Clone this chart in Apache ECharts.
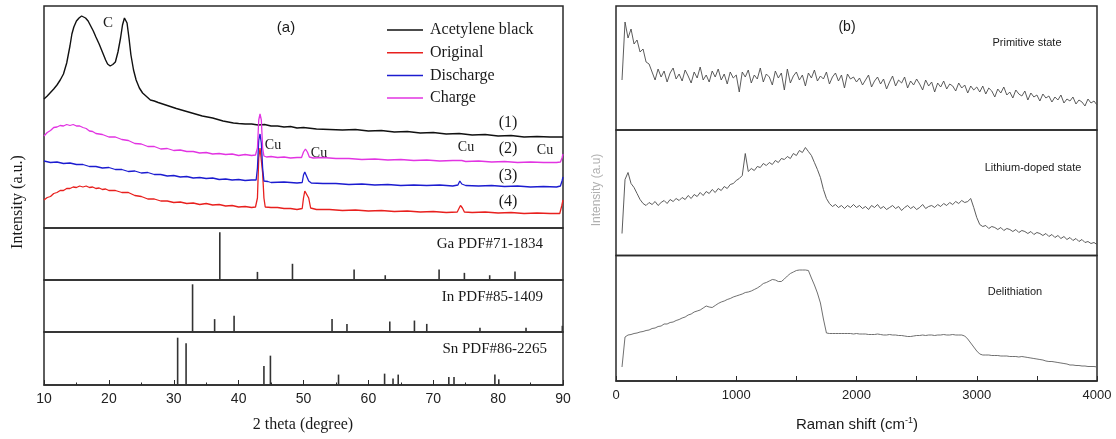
<!DOCTYPE html>
<html><head><meta charset="utf-8">
<script src="https://cdn.jsdelivr.net/npm/echarts@6/dist/echarts.min.js"></script>
<style>html,body{margin:0;padding:0;background:#fff}#c{width:1116px;height:439px}</style>
</head><body><div id="c"></div>
<script>
// ---------- Panel (a): XRD patterns, 2 theta (degree) vs intensity (a.u.) ----------
const acetyleneBlack = [[10,129],[10.5,132],[11,135.5],[11.5,139],[12,143],[12.5,148],[13,154],[13.5,165],[14,182],[14.3,194],[14.6,201],[15,207],[15.4,210],[15.8,212],[16.1,211.5],[16.4,210],[16.8,207],[17.2,202],[17.6,197],[18,191],[18.5,184],[19,176],[19.5,168],[19.8,164],[20.2,162],[20.6,163.5],[21,166],[21.4,176],[21.8,190],[22.1,203],[22.4,210],[22.6,212],[22.8,205],[23.1,190],[23.4,173],[23.8,158],[24.2,148],[24.7,140],[25.2,135],[25.8,131.5],[26.4,128],[27,127],[27.6,125.5],[28.3,124],[29,122.5],[29.7,121],[30.4,119.5],[31.2,118],[32,116.5],[32.8,115],[33.6,113.5],[34.4,112],[35.2,111],[36,110],[36.8,108.5],[37.6,107],[38.4,106],[39.2,105],[40,104.5],[41,104],[42,104],[43,103],[44,103.5],[45,102],[46,102],[47,101],[48,101.5],[49,100],[50,100.5],[52,99],[54,98.5],[56,98],[58,98.5],[60,97],[62,97.5],[64,96],[66,96.5],[68,95],[70,95.5],[72,94],[74,94.5],[76,93],[78,93.5],[80,92],[82,92.5],[84,91],[86,91.5],[88,91],[90,91]];
const original = [[10,28],[10.5,30.5],[11,31.5],[11.5,34.5],[12,35.5],[12.5,37.5],[13,37.5],[13.5,39.5],[14,39.5],[14.5,41],[15,40.5],[15.5,42],[16,41],[16.5,42],[17,40.5],[17.5,41],[18,39.5],[18.5,40],[19,38.5],[19.5,39],[20,37.5],[21,37.5],[22,35.5],[23,35.5],[24,32.5],[25,31.5],[26,29],[27,29],[28,27],[29,27],[30,25.5],[31,26],[32,24.5],[33,25],[34,23.5],[35,24.5],[36,23],[37,23.5],[38,22],[39,22.5],[40,21],[41,21.5],[42,20.5],[42.6,21],[42.9,30],[43.1,70],[43.3,80],[43.5,78],[43.7,55],[43.9,30],[44.1,21],[45,20.5],[46,20.5],[47,19.5],[48,19.5],[49,18.5],[49.8,19.5],[50,30],[50.2,37],[50.5,37],[50.8,30],[51.1,20],[52,18.5],[54,18.5],[56,17.5],[58,18],[60,17],[62,17.5],[64,16.5],[66,17],[68,16],[70,16.5],[72,15.5],[73.7,16],[74,20],[74.2,22.5],[74.5,20],[74.8,16],[76,15.5],[78,16],[80,15],[82,15.5],[84,14.5],[86,15],[88,14.5],[89.5,14.5],[89.8,22],[90,28]];
const discharge = [[10,67],[11,65.5],[12,66],[13,64.5],[14,65],[15,63.5],[16,63.5],[17,61.5],[18,61.5],[19,60],[20,60.5],[21,58.5],[22,58.5],[23,56.5],[24,57],[25,55],[26,55.5],[27,53.5],[28,53.5],[29,52],[30,52.5],[31,51],[32,51.5],[33,50],[34,50.5],[35,49.5],[36,50],[37,48.5],[38,49],[39,48],[40,48.5],[41,47.5],[42,48],[42.7,48],[42.9,60],[43.1,88],[43.3,94],[43.5,85],[43.7,60],[43.9,47],[44.5,46.5],[45,45.5],[47,46],[49,45],[49.8,45.5],[50,53],[50.2,56],[50.5,54],[50.8,47],[51.2,45],[53,44.5],[55,44.5],[57,43.5],[59,44],[61,43],[63,43.5],[65,42.5],[67,43],[69,42.5],[71,43],[73,42],[73.8,43],[74.1,47],[74.4,44],[75,42.5],[77,42],[79,42.5],[81,41.5],[83,42],[85,41],[87,41.5],[89,41],[89.6,42],[89.85,47],[90,51]];
const charge = [[10,92],[10.5,95.5],[11,97.5],[11.5,100.5],[12,101],[12.5,102.5],[13,102],[13.5,103.5],[14,102.5],[14.5,103.5],[15,102],[15.5,102],[16,100.5],[16.5,99.5],[17,97],[17.5,96.5],[18,94.5],[19,93.5],[20,91],[21,91],[22,88.5],[23,87.5],[24,84.5],[25,84],[26,81.5],[27,81.5],[28,79],[29,79.5],[30,77.5],[31,78],[32,76.5],[33,76.5],[34,75],[35,75.5],[36,74],[37,74.5],[38,73.5],[39,74],[40,72.5],[41,73.5],[42,72.5],[42.6,73],[42.9,80],[43.1,108],[43.3,114],[43.5,108],[43.7,80],[43.9,72],[44.3,71],[45,71.5],[46,70.5],[47,71],[48,70],[49,70.5],[49.7,70.5],[50,76],[50.3,79],[50.6,76],[50.9,71],[51.5,70],[53,70.5],[55,69.5],[57,69.5],[59,68.5],[61,69],[63,68],[65,68.5],[67,67.5],[69,68],[71,67],[73,67.5],[73.8,67.5],[74.1,69],[74.4,67.5],[75,66.5],[77,67],[79,66],[81,66.5],[83,65.5],[85,66],[87,65.5],[89,65.5],[89.6,66],[89.85,70],[90,74]];

// Reference patterns (2 theta, relative intensity)
const gaPDF = [[37.1,100],[42.9,17],[48.3,34],[57.8,22],[62.6,10],[70.9,22],[74.8,15],[78.7,10],[82.6,18]];
const inPDF = [[32.9,100],[36.3,27],[39.3,34],[54.4,27],[56.7,17],[63.3,22],[67.1,24],[69.0,17],[77.2,9],[84.3,9],[89.9,13]];
const snPDF = [[30.6,100],[31.9,88],[43.9,40],[44.9,62],[55.4,22],[62.5,24],[63.8,14],[64.6,22],[72.4,17],[73.2,17],[79.5,22],[80.1,12]];

const xrdTicks = [10,20,30,40,50,60,70,80,90];
const xrdLegend = ['Acetylene black','Original','Discharge','Charge'];

// ---------- Panel (b): Raman spectra ----------
const ramanShift = [50,75,100,125,150,175,200,225,250,275,300,325,350,375,400,425,450,475,500,525,550,575,600,625,650,675,700,725,750,775,800,825,850,875,900,925,950,975,1000,
1025,1050,1075,1100,1125,1150,1175,1200,1225,1250,1275,1300,1325,1350,1375,1400,1425,1450,1475,1500,1525,1550,1575,1600,1625,1650,1675,1700,1725,1750,1775,1800,1825,1850,1875,1900,1925,1950,1975,2000,
2025,2050,2075,2100,2125,2150,2175,2200,2225,2250,2275,2300,2325,2350,2375,2400,2425,2450,2475,2500,2525,2550,2575,2600,2625,2650,2675,2700,2725,2750,2775,2800,2825,2850,2875,2900,2925,2950,2975,3000,
3025,3050,3075,3100,3125,3150,3175,3200,3225,3250,3275,3300,3325,3350,3375,3400,3425,3450,3475,3500,3525,3550,3575,3600,3625,3650,3675,3700,3725,3750,3775,3800,3825,3850,3875,3900,3925,3950,3975,4000];
const primitiveState = [50,108,92,101,86,90,78,81,68,66, 58,50,61,53,59,48,57,62,51,56, 49,60,54,47,58,52,63,50,55,48, 59,53,61,50,56,46,58,52,55,
38,58,53,60,47,55,51,62,48,56, 53,45,59,52,57,40,61,47,54,58, 50,55,44,57,52,60,49,54,51,58, 46,53,57,49,55,42,56,51,53,48,
52,45,50,55,43,49,53,46,51,41, 48,54,44,50,47,53,42,49,45,51, 46,40,50,44,48,38,47,43,49,41, 46,44,39,47,42,45,37,44,40,43,
38,44,36,42,39,33,41,37,43,35, 38,32,40,36,34,39,30,37,33,35, 29,36,32,34,28,33,30,35,27,31, 29,33,26,30,28,24,31,27,29,25];
const lithiumDoped = [22,76,83,72,68,62,56,52,50,53, 51,54,50,53,55,52,56,54,57,55, 58,56,60,57,61,59,63,60,64,62, 66,63,67,65,69,67,71,72,75,
77,80,102,84,87,85,89,88,92,90, 93,91,95,93,97,96,99,97,102,100, 105,103,108,104,100,93,86,78,66,57, 52,49,51,48,50,47,50,48,51,48,
50,47,49,46,50,48,51,47,49,46, 48,50,47,49,45,48,50,47,49,46, 48,51,47,49,50,48,51,49,52,50, 53,51,54,52,55,53,54,57,48,38,
31,29,30,27,29,28,26,28,25,27, 26,24,26,23,25,24,22,24,21,23, 22,20,22,19,21,18,20,17,19,16, 18,15,17,14,16,13,14,12,13,11];
const delithiation = [14,44,46,46.5,47.5,48,49,49.5,50.5,51, 52.5,53,54.5,55,57,57,58.5,59,60.5,61.5, 63,64,66,67,69,70,71,73,75,74, 73.5,75.5,77.5,79,80,81.5,82.5,84,85,
86,87,88.5,89,90,91.5,93,95,97.5,98.5, 100,101.5,101,99.5,99.5,102,105,107.5,109,110.5, 111,111,111,110.5,103,96,88,78,62,48, 47.5,47.5,47.5,47.5,47.5,47.5,47.5,47.5,47,47.5,
47,47,47,46.5,46.5,46.5,47,46.5,46,46, 46.5,46,46,45.5,45.5,45,44.5,44.5,45,45.5, 45.5,46,45.5,46,46,45.5,46,46,46.5,46, 46,46.5,46,46,46,45,42,38,34,30,
27,26,26,26,25.5,25.5,25.5,25,25,25, 24.5,24.5,24.5,24,24.5,24,23.5,23,22.5,22, 21.5,21,20,19.5,19.5,19,18.5,18,17.5,17, 16,16,15.5,15.5,15,15,14.5,14.5,14.5,14];
const ramanTicks = [0,1000,2000,3000,4000];

// ---------- build ----------
const SERIF = '"Liberation Serif","Times New Roman",serif';
const SANS = '"Liberation Sans",Arial,sans-serif';
const zip = (xs, ys) => xs.map((x, i) => [x, ys[i]]);

const L = 44, LW = 519, R = 616, RW = 481;
const grids = [
  {left:L, top:6, width:LW, height:222},
  {left:L, top:228, width:LW, height:52},
  {left:L, top:280, width:LW, height:52},
  {left:L, top:332, width:LW, height:53},
  {left:R, top:6, width:RW, height:124},
  {left:R, top:130, width:RW, height:125.5},
  {left:R, top:255.5, width:RW, height:125.5}
].map(g => Object.assign({show:true, borderColor:'#2a2a2a', borderWidth:1.5, backgroundColor:'transparent', containLabel:false}, g));

const yMax = [222, 109, 109, 112, 124, 125.5, 125.5];

const xAxes = [];
for (let i = 0; i < 4; i++) {
  const bottom = i === 3;
  xAxes.push({
    type:'value', gridIndex:i, min:10, max:90, interval:10,
    axisLine:{show:bottom, onZero:false, lineStyle:{color:'#2a2a2a', width:1.5}},
    axisTick:{show:bottom, inside:true, length:5, lineStyle:{color:'#2a2a2a', width:1}},
    minorTick:{show:bottom, splitNumber:2, length:2.5, lineStyle:{color:'#2a2a2a', width:1}},
    axisLabel:{show:bottom, color:'#222', fontFamily:SANS, fontSize:14, margin:7,
      formatter: v => xrdTicks.includes(v) ? String(v) : ''},
    splitLine:{show:false}
  });
}
for (let i = 4; i < 7; i++) {
  const bottom = i === 6;
  xAxes.push({
    type:'value', gridIndex:i, min:0, max:4000, interval:500,
    axisLine:{show:bottom, onZero:false, lineStyle:{color:'#2a2a2a', width:1.5}},
    axisTick:{show:bottom, inside:true, length:5, lineStyle:{color:'#2a2a2a', width:1}},
    axisLabel:{show:bottom, color:'#222', fontFamily:SANS, fontSize:13, margin:8,
      formatter: v => ramanTicks.includes(v) ? String(v) : ''},
    splitLine:{show:false}
  });
}
const yAxes = yMax.map((m, i) => ({type:'value', gridIndex:i, min:0, max:m, show:false, splitLine:{show:false}}));

const lineS = (name, data, color, idx, width) => ({
  name, type:'line', data, xAxisIndex:idx, yAxisIndex:idx, showSymbol:false, symbol:'none',
  lineStyle:{color, width}, itemStyle:{color}, animation:false, silent:true
});
const barS = (name, data, idx) => ({
  name, type:'bar', data, xAxisIndex:idx, yAxisIndex:idx, barWidth:1.6,
  itemStyle:{color:'#333'}, animation:false, silent:true
});

const series = [
  lineS('Acetylene black', acetyleneBlack, '#111111', 0, 1.4),
  lineS('Original', original, '#e8201e', 0, 1.3),
  lineS('Discharge', discharge, '#1c1cd0', 0, 1.3),
  lineS('Charge', charge, '#e234e2', 0, 1.3),
  barS('Ga', gaPDF, 1),
  barS('In', inPDF, 2),
  barS('Sn', snPDF, 3),
  lineS('Primitive state', zip(ramanShift, primitiveState), '#4a4a4a', 4, 0.9),
  lineS('Lithium-doped state', zip(ramanShift, lithiumDoped), '#4a4a4a', 5, 0.9),
  lineS('Delithiation', zip(ramanShift, delithiation), '#606060', 6, 0.9)
];

const txt = (text, x, y, font, size, align, extra) => Object.assign({
  type:'text', x, y, silent:true,
  style:{text, fontFamily:font, fontSize:size, fill:'#1a1a1a', textAlign:align || 'center', textVerticalAlign:'middle'}
}, extra || {});

const graphic = [
  txt('(a)', 286, 28, SANS, 15),
  txt('C', 108, 23, SERIF, 15),
  txt('Cu', 273, 145, SERIF, 14),
  txt('Cu', 319, 153, SERIF, 14),
  txt('Cu', 466, 147, SERIF, 14),
  txt('Cu', 545, 150, SERIF, 14),
  txt('(1)', 508, 123, SERIF, 16),
  txt('(2)', 508, 149, SERIF, 16),
  txt('(3)', 508, 176, SERIF, 16),
  txt('(4)', 508, 202, SERIF, 16),
  txt('Ga PDF#71-1834', 543, 244, SERIF, 15, 'right'),
  txt('In PDF#85-1409', 543, 297, SERIF, 15, 'right'),
  txt('Sn PDF#86-2265', 547, 349, SERIF, 15, 'right'),
  txt('Intensity (a.u.)', 18, 202, SERIF, 16, 'center', {rotation: Math.PI/2}),
  txt('2 theta (degree)', 303, 425, SERIF, 16),
  txt('(b)', 847, 27, SANS, 14),
  txt('Primitive state', 1027, 43, SANS, 11),
  txt('Lithium-doped state', 1033, 168, SANS, 11),
  txt('Delithiation', 1015, 292, SANS, 11),
  {type:'text', x:597, y:190, rotation:Math.PI/2, silent:true,
   style:{text:'Intensity (a.u)', fontFamily:SANS, fontSize:12, fill:'#b0b0b0', textAlign:'center', textVerticalAlign:'middle'}},
  {type:'text', x:857, y:425, silent:true,
   style:{text:'{a|Raman shift (cm}{s|-1}{a|)}', textAlign:'center', textVerticalAlign:'middle',
     rich:{a:{fontFamily:SANS, fontSize:15, fill:'#1a1a1a'}, s:{fontFamily:SANS, fontSize:9, fill:'#1a1a1a', verticalAlign:'top', padding:[0,0,8,0]}}}}
];

const chart = echarts.init(document.getElementById('c'), null, {renderer:'canvas'});
chart.setOption({
  animation:false,
  backgroundColor:'#ffffff',
  grid: grids,
  xAxis: xAxes,
  yAxis: yAxes,
  legend: {
    data: xrdLegend, orient:'vertical', left:382, top:17, icon:'rect',
    itemWidth:36, itemHeight:1.5, itemGap:6.7, selectedMode:false,
    textStyle:{fontFamily:SERIF, fontSize:16, color:'#1a1a1a', lineHeight:16, padding:[0,0,0,2]}
  },
  series,
  graphic
});
</script></body></html>
